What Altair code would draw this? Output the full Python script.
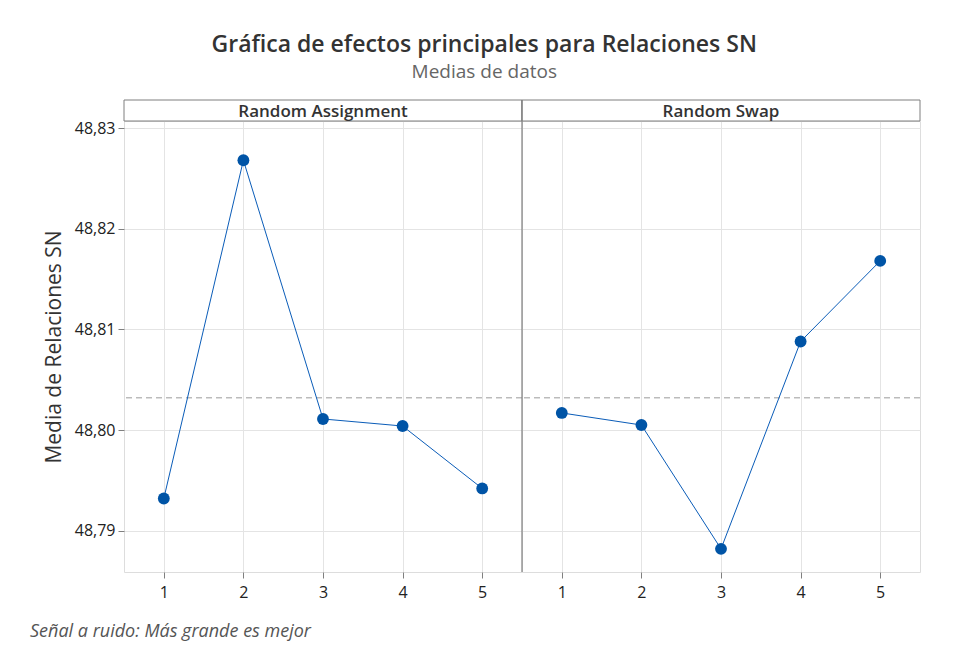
import altair as alt
import pandas as pd

levels = [1, 2, 3, 4, 5]
random_assignment = [48.7932, 48.8268, 48.8011, 48.8004, 48.7942]
random_swap = [48.8017, 48.8005, 48.7882, 48.8088, 48.8168]
overall_mean = 48.8032
panel_names = ["Random Assignment", "Random Swap"]
y_ticks = [48.79, 48.80, 48.81, 48.82, 48.83]
y_domain = [48.7859, 48.8307]

W = 398
H = 451
FONT = "Open Sans"
BLUE = "#0054A6"


def panel(name, values, show_y, footnote=False):
    df = pd.DataFrame({"level": levels, "value": values})
    y_axis = alt.Axis(
        values=y_ticks,
        labelExpr="replace(format(datum.value, '.2f'), '.', ',')",
        title="Media de Relaciones SN" if show_y else None,
        labels=show_y,
        ticks=show_y,
        domain=False,
        grid=True,
        gridColor="#e4e4e4",
        labelFontSize=16,
        labelFontWeight=500,
        labelColor="#222",
        labelFont=FONT,
        labelPadding=3,
        tickColor="#7f7f7f",
        tickSize=6,
        titleFontSize=21,
        titleFontWeight="normal",
        titleColor="#333",
        titleFont=FONT,
        titlePadding=10,
    )
    x_axis = alt.Axis(
        title=None,
        labelAngle=0,
        domain=False,
        grid=True,
        gridColor="#e4e4e4",
        labelFontSize=16,
        labelFontWeight=500,
        labelColor="#222",
        labelFont=FONT,
        tickColor="#7f7f7f",
        tickSize=6,
        labelPadding=6,
    )
    base = alt.Chart(df).encode(
        x=alt.X("level:O", axis=x_axis),
        y=alt.Y("value:Q", scale=alt.Scale(domain=y_domain, nice=False, zero=False), axis=y_axis),
    )
    line = base.mark_line(color="#0a5cb8", strokeWidth=1)
    pts = base.mark_point(filled=True, color=BLUE, size=140, opacity=1)
    rule = alt.Chart(pd.DataFrame({"m": [overall_mean]})).mark_rule(
        color="#9a9a9a", strokeDash=[6, 4], strokeWidth=1
    ).encode(y="m:Q")
    strip_df = pd.DataFrame({"f": [name]})
    strip = alt.Chart(strip_df).mark_rect(fill="white", stroke="#7f7f7f", strokeWidth=1).encode(
        x=alt.value(0), x2=alt.value(W), y=alt.value(-21), y2=alt.value(0)
    )
    strip_text = alt.Chart(strip_df).mark_text(
        fontSize=17, font=FONT, color="#333", baseline="middle", fontWeight=600
    ).encode(text="f:N", x=alt.value(W / 2), y=alt.value(-9))
    layers = [rule, line, pts, strip, strip_text]
    if not show_y:
        divider = alt.Chart(strip_df).mark_rule(color="#7f7f7f", strokeWidth=1.2).encode(
            x=alt.value(0), y=alt.value(-21), y2=alt.value(H)
        )
        layers.append(divider)
    if footnote:
        fn = alt.Chart(pd.DataFrame({"t": ["Señal a ruido: Más grande es mejor"]})).mark_text(
            fontSize=18, font=FONT, fontStyle="italic", color="#555", align="left", baseline="middle"
        ).encode(text="t:N", x=alt.value(-94), y=alt.value(H + 60))
        layers.append(fn)
    return alt.layer(*layers).properties(width=W, height=H)


left = panel(panel_names[0], random_assignment, True, footnote=True)
right = panel(panel_names[1], random_swap, False)

chart = (
    alt.hconcat(left, right, spacing=0, bounds="flush")
    .properties(
        title=alt.TitleParams(
            text="Gráfica de efectos principales para Relaciones SN",
            subtitle="Medias de datos",
            anchor="middle",
            fontSize=23,
            fontWeight=600,
            font=FONT,
            color="#333",
            subtitleFontSize=19,
            subtitleFont=FONT,
            subtitleColor="#666",
            subtitlePadding=6,
            offset=17,
            dx=9,
        ),
        padding={"left": 21, "top": 25, "right": 5, "bottom": 5},
    )
    .configure_view(stroke="#7f7f7f", strokeWidth=1)
    .configure(background="white")
)

chart.save("out.html", embed_options={"renderer": "svg", "actions": False})
